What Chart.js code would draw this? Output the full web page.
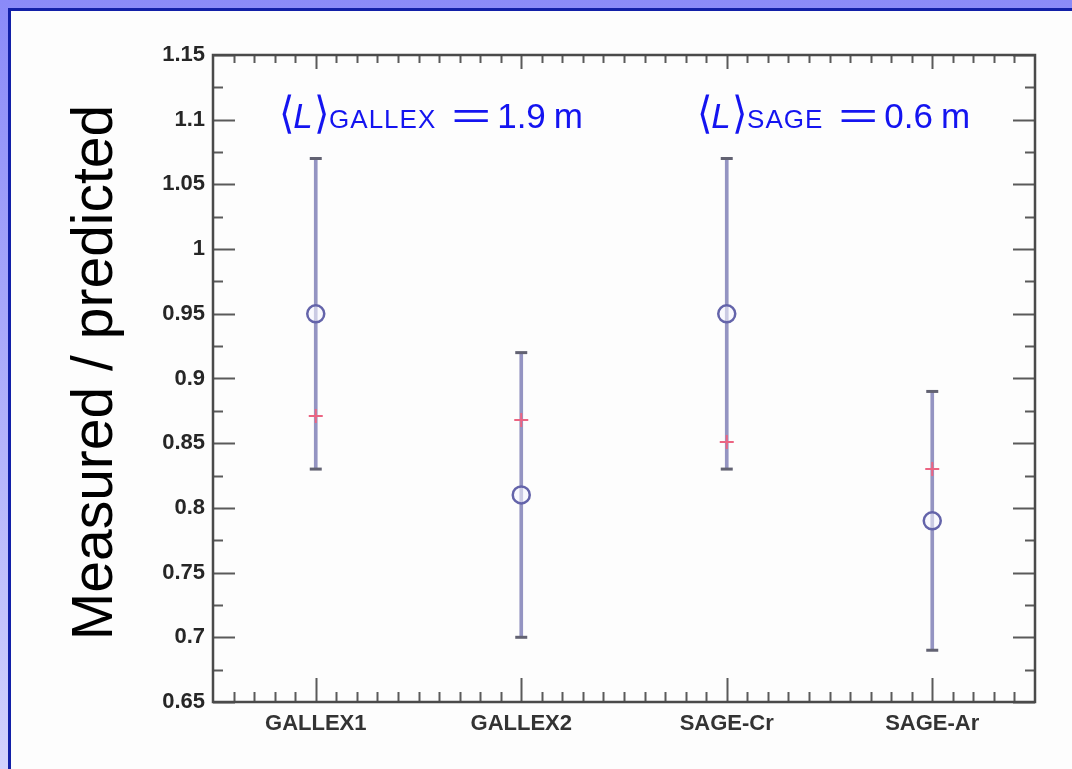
<!DOCTYPE html>
<html>
<head>
<meta charset="utf-8">
<script src="https://cdn.jsdelivr.net/npm/chart.js@4.4.1/dist/chart.umd.min.js"></script>
<style>
  html, body { margin: 0; padding: 0; width: 1072px; height: 769px; overflow: hidden; }
  body { position: relative; background: linear-gradient(to bottom, #8a8af8 0%, #d2d2fd 100%); }
  #panel { position: absolute; left: 8px; top: 8px; right: 0; bottom: 0;
           border-left: 3px solid #1220a8; border-top: 3px solid #1220a8; background: #fdfdfd; }
  #wrap { position: absolute; left: 0; top: 0; width: 1072px; height: 769px; }
</style>
</head>
<body>
<div id="panel"></div>
<div id="wrap"><canvas id="c" width="1072" height="769"></canvas></div>
<script>
// Gallium source calibration runs: measured / predicted rate
const categories = ['GALLEX1', 'GALLEX2', 'SAGE-Cr', 'SAGE-Ar'];
const measured   = [0.95, 0.81, 0.95, 0.79];
const errLow     = [0.83, 0.70, 0.83, 0.69];
const errHigh    = [1.07, 0.92, 1.07, 0.89];
const predicted  = [0.871, 0.868, 0.851, 0.83];
const yTickLabels = ['0.65', '0.7', '0.75', '0.8', '0.85', '0.9', '0.95', '1', '1.05', '1.1', '1.15'];

// Mean baseline annotations
const baselineSites  = ['GALLEX', 'SAGE'];
const baselineMeters = ['1.9', '0.6'];

const SANS = '"Liberation Sans", Arial, Helvetica, sans-serif';

// Box frame with inward-pointing major/minor ticks on all four sides
const framePlugin = {
  id: 'frame',
  beforeDatasetsDraw(chart) {
    const { ctx, chartArea: a, scales: { x, y } } = chart;
    ctx.save();
    ctx.strokeStyle = '#5a5a5a';
    ctx.lineWidth = 2;
    ctx.beginPath();
    // y ticks every 0.025
    for (let k = 0; k <= 20; k++) {
      const v = y.min + k * 0.025;
      const py = Math.round(y.getPixelForValue(v)) + 0.5;
      const len = k % 2 === 0 ? 22 : 10;
      ctx.moveTo(a.left, py); ctx.lineTo(a.left + len, py);
      ctx.moveTo(a.right, py); ctx.lineTo(a.right - len, py);
    }
    // x ticks every tenth of a category
    for (let k = 1; k < 40; k++) {
      const v = -0.5 + k * 0.1;
      const px = Math.round(x.getPixelForValue(v)) + 0.5;
      const len = k % 10 === 5 ? 24 : 10;
      ctx.moveTo(px, a.bottom); ctx.lineTo(px, a.bottom - len);
      ctx.moveTo(px, a.top); ctx.lineTo(px, a.top + (k % 10 === 5 ? 14 : 8));
    }
    ctx.stroke();
    ctx.strokeStyle = '#4a4a4a';
    ctx.lineWidth = 2.5;
    ctx.strokeRect(a.left, a.top, a.right - a.left, a.bottom - a.top);
    ctx.restore();
  },
  afterDraw(chart) {
    const { ctx, chartArea: a } = chart;
    ctx.save();
    // y axis title
    ctx.translate(112, (a.top + a.bottom) / 2 - 6);
    ctx.rotate(-Math.PI / 2);
    ctx.fillStyle = '#000';
    ctx.font = '57px ' + SANS;
    ctx.textAlign = 'center';
    ctx.textBaseline = 'alphabetic';
    ctx.fillText('Measured / predicted', 0, 0);
    ctx.restore();

    // <L> annotations
    const starts = [a.left + 66, a.left + 484];
    const baseY = a.top + 73;
    baselineSites.forEach((site, i) => {
      let px = starts[i];
      const big = '35px ' + SANS;
      ctx.save();
      ctx.fillStyle = '#1414f0';
      ctx.textAlign = 'left';
      ctx.textBaseline = 'alphabetic';
      const put = (txt, font, gapAfter, sx = 1) => {
        ctx.font = font;
        ctx.save();
        ctx.translate(px, baseY);
        ctx.scale(sx, 1);
        ctx.fillText(txt, 0, 0);
        ctx.restore();
        px += ctx.measureText(txt).width * sx + gapAfter;
      };
      put('\u27E8', '300 44px "DejaVu Sans", ' + SANS, -1, 0.9);
      put('L', 'italic ' + big, 1);
      put('\u27E9', '300 44px "DejaVu Sans", ' + SANS, 0, 0.9);
      ctx.letterSpacing = '1px';
      put(site, '26px ' + SANS, 15);
      ctx.letterSpacing = '0px';
      put('=', '36px ' + SANS, 6, 1.9);
      put(baselineMeters[i], big, 8);
      put('m', big, 0);
      ctx.restore();
    });
  }
};

new Chart(document.getElementById('c'), {
  type: 'bar',
  data: {
    labels: categories,
    datasets: [
      {
        label: 'measured',
        type: 'line',
        data: measured,
        showLine: false,
        pointStyle: 'circle',
        pointRadius: 8.5,
        pointBorderWidth: 2.5,
        pointBorderColor: '#6464aa',
        pointBackgroundColor: 'rgba(245,245,255,0.55)',
        order: 1
      },
      {
        label: 'predicted',
        type: 'line',
        data: predicted,
        showLine: false,
        pointStyle: 'cross',
        pointRadius: 7,
        pointBorderWidth: 2,
        pointBorderColor: '#ec6482',
        order: 2
      },
      {
        label: 'upper',
        type: 'line',
        data: errHigh,
        showLine: false,
        pointStyle: 'line',
        pointRadius: 6,
        pointBorderWidth: 3,
        pointBorderColor: '#626272',
        order: 3
      },
      {
        label: 'lower',
        type: 'line',
        data: errLow,
        showLine: false,
        pointStyle: 'line',
        pointRadius: 6,
        pointBorderWidth: 3,
        pointBorderColor: '#626272',
        order: 3
      },
      {
        label: 'range',
        type: 'bar',
        data: errLow.map((lo, i) => [lo, errHigh[i]]),
        backgroundColor: '#9494c2',
        borderWidth: 0,
        barThickness: 3,
        grouped: false,
        order: 5
      }
    ]
  },
  options: {
    responsive: false,
    animation: false,
    layout: { padding: { left: 0, top: 55, right: 37, bottom: 0 } },
    plugins: { legend: { display: false }, tooltip: { enabled: false } },
    scales: {
      x: {
        offset: true,
        grid: { display: false, drawTicks: false },
        border: { display: false },
        ticks: { font: { family: SANS, size: 22, weight: 'bold' }, color: '#333333', padding: 9 },
        afterFit(s) { s.height = 67; }
      },
      y: {
        min: 0.65,
        max: 1.15,
        grid: { display: false, drawTicks: false },
        border: { display: false },
        ticks: {
          stepSize: 0.05,
          callback: (v, i) => yTickLabels[i],
          font: { family: SANS, size: 22, weight: 'bold' },
          color: '#262626',
          padding: 8
        },
        afterFit(s) { s.width = 213; }
      }
    }
  },
  plugins: [framePlugin]
});
</script>
</body>
</html>
